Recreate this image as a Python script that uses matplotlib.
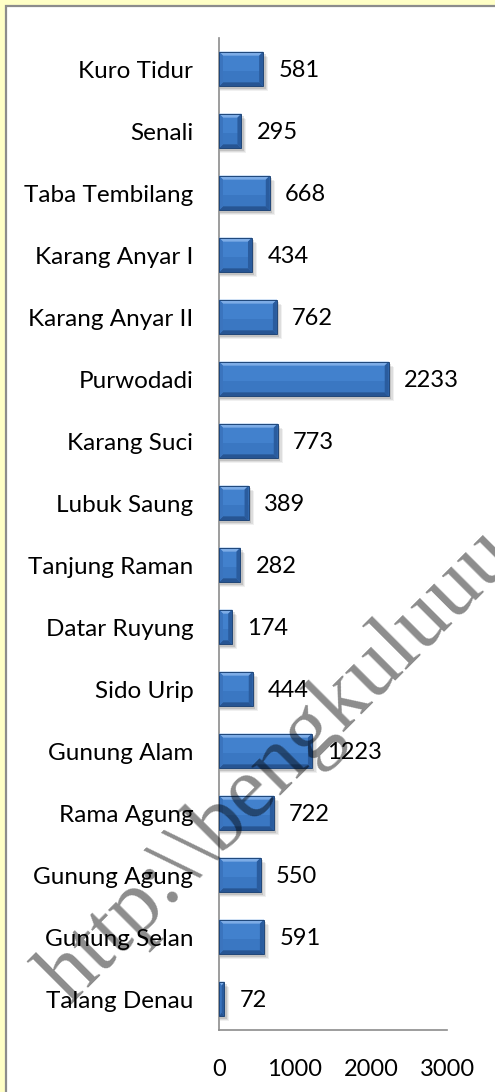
import matplotlib
matplotlib.use("Agg")
import matplotlib.pyplot as plt
from matplotlib.patches import Rectangle, Polygon
import numpy as np

categories = ["Talang Denau", "Gunung Selan", "Gunung Agung", "Rama Agung",
              "Gunung Alam", "Sido Urip", "Datar Ruyung", "Tanjung Raman",
              "Lubuk Saung", "Karang Suci", "Purwodadi", "Karang Anyar II",
              "Karang Anyar I", "Taba Tembilang", "Senali", "Kuro Tidur"]
values = [72, 591, 550, 722, 1223, 444, 174, 282, 389, 773, 2233, 762, 434, 668, 295, 581]
xticks = [0, 1000, 2000, 3000]
watermark = "http:\\\\bengkuluuu"

W, H, DPI = 495, 1092, 100
fig = plt.figure(figsize=(W / DPI, H / DPI), dpi=DPI)
fig.patch.set_facecolor("#FFFFC6")

# white inner frame with grey border
frame = Rectangle((6 / W, -0.1), 1.2, (H - 6) / H + 0.1, transform=fig.transFigure,
                  facecolor="white", edgecolor="#8C8C8C", linewidth=1.6, zorder=-5)
fig.patches.append(frame)

ax = fig.add_axes([219 / W, (H - 1030) / H, (447 - 219) / W, (1030 - 38) / H])
ax.set_zorder(2)
ax.set_facecolor("none")
ax.set_xlim(0, 3000)
ax.set_ylim(-0.5, len(categories) - 0.5)

FONT = "Lato"
FS_LAB = 17.5
FS_NUM = 17

bar_h = 0.56
bars = ax.barh(range(len(categories)), values, height=bar_h, color="#4281CD",
               edgecolor="none", zorder=3)

# pixel -> data scale
ax_w_px = (447 - 219)
ax_h_px = (1030 - 38)
px_x = 3000 / ax_w_px
px_y = len(categories) / ax_h_px

for b in bars:
    x0 = b.get_x()
    y0 = b.get_y()
    w = b.get_width()
    h = b.get_height()
    x1, y1 = x0 + w, y0 + h
    bx = min(4 * px_x, w / 2)
    by = 4 * px_y
    # soft shadow
    for k, a in [(5, 0.06), (4, 0.08), (2.5, 0.12)]:
        ax.add_patch(Rectangle((x0 + 1 * px_x, y0 - k * px_y), w + (k - 1) * px_x, h,
                               facecolor="black", alpha=a, edgecolor="none", zorder=2))
    # subtle vertical shading on the face
    ax.add_patch(Rectangle((x0, y0), w, h * 0.45, facecolor="#3671BC", edgecolor="none",
                           alpha=0.6, zorder=3.5))
    faces = [
        ([(x0, y1), (x1, y1), (x1 - bx, y1 - by), (x0 + bx, y1 - by)], "#7DACE6"),
        ([(x0, y0), (x1, y0), (x1 - bx, y0 + by), (x0 + bx, y0 + by)], "#275593"),
        ([(x0, y0), (x0, y1), (x0 + bx, y1 - by), (x0 + bx, y0 + by)], "#3A74BE"),
        ([(x1, y0), (x1, y1), (x1 - bx, y1 - by), (x1 - bx, y0 + by)], "#2A5C9E"),
    ]
    for pts, c in faces:
        ax.add_patch(Polygon(pts, closed=True, facecolor=c, edgecolor="none", zorder=4))
    ax.add_patch(Rectangle((x0, y0), w, h, facecolor="none", edgecolor="#1F4679",
                           linewidth=0.7, zorder=5))

for i, v in enumerate(values):
    ax.annotate(str(v), xy=(v, i), xytext=(11, -1), textcoords="offset points",
                ha="left", va="center", fontsize=FS_NUM, family=FONT, color="black",
                zorder=6)

ax.set_yticks(range(len(categories)))
ax.set_yticklabels(categories, fontsize=FS_LAB, family=FONT)
ax.set_xticks(xticks)
ax.set_xticklabels([str(t) for t in xticks], fontsize=FS_NUM, family=FONT)
ax.tick_params(axis="y", length=0, pad=18.5)
ax.tick_params(axis="x", length=0, pad=21)
for s in ["top", "right"]:
    ax.spines[s].set_visible(False)
for s in ["left", "bottom"]:
    ax.spines[s].set_color("#8C8C8C")
    ax.spines[s].set_linewidth(1.2)

# watermark
fig.text(70 / W, (H - 1006) / H, watermark, rotation=45, rotation_mode="anchor",
         ha="left", va="baseline", fontsize=64,
         family=["Liberation Serif", "DejaVu Serif"],
         color="black", alpha=0.45, zorder=10)

fig.savefig("out.png", dpi=DPI, facecolor=fig.get_facecolor())
